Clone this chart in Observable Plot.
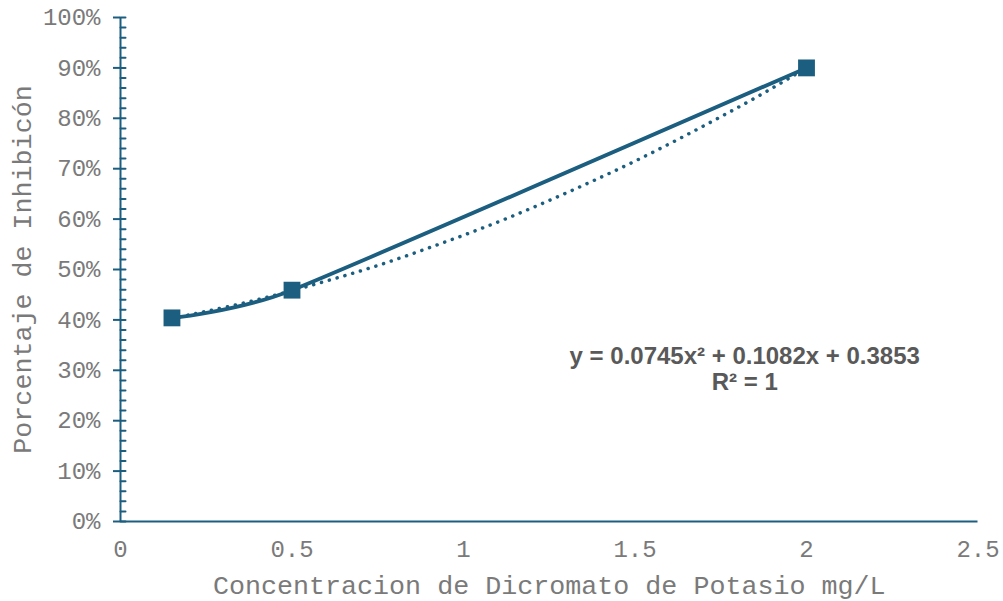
<!DOCTYPE html>
<html>
<head>
<meta charset="utf-8">
<script src="https://cdn.jsdelivr.net/npm/d3@7"></script>
<script src="https://cdn.jsdelivr.net/npm/@observablehq/plot@0.6"></script>
<style>
  html, body { margin: 0; padding: 0; background: #fff; }
  #chart svg { display: block; }
</style>
</head>
<body>
<div id="chart"></div>
<script>
// Measured data points (concentration mg/L, inhibition fraction)
const concentracion = [0.15, 0.5, 2];
const inhibicion = [0.404, 0.459, 0.90];

// Polynomial trendline
const trendX = [0.15, 0.25, 0.375, 0.5, 0.625, 0.75, 0.875, 1, 1.125, 1.25, 1.375, 1.5, 1.625, 1.75, 1.875, 2];
const trendY = [0.403, 0.417, 0.436, 0.458, 0.482, 0.508, 0.537, 0.568, 0.601, 0.637, 0.675, 0.715, 0.758, 0.803, 0.850, 0.900];

const xTicks = [0, 0.5, 1, 1.5, 2, 2.5];
const yMajor = [0, 0.1, 0.2, 0.3, 0.4, 0.5, 0.6, 0.7, 0.8, 0.9, 1.0];
const yMinor = d3.range(0, 51).map(i => i / 50);

const xTitle = "Concentracion de Dicromato de Potasio mg/L";
const yTitle = "Porcentaje de Inhibicón";
const equation = ["y = 0.0745x² + 0.1082x + 0.3853", "R² = 1"];

const points = concentracion.map((x, i) => ({x, y: inhibicion[i]}));
const trend = trendX.map((x, i) => ({x, y: trendY[i]}));

const C = "#1b5e80";
const TXT = "#7a7a7a";
const MONO = "'Courier New', 'Liberation Mono', monospace";

const tickShape = {draw(context, l) { context.moveTo(0, 0); context.lineTo(0, -l); }};

const chart = Plot.plot({
  width: 1003,
  height: 601,
  marginLeft: 120,
  marginRight: 25.5,
  marginTop: 17,
  marginBottom: 80,
  style: {fontFamily: MONO, background: "#fff"},
  x: {domain: [0, 2.5]},
  y: {domain: [0, 1]},
  marks: [
    // inward ticks (every 2%)
    Plot.vector(yMinor, {x: 0, y: d => d, length: 5, rotate: 90, anchor: "start", shape: tickShape, stroke: C, strokeWidth: 2}),
    // major outward ticks + labels
    Plot.axisY({ticks: yMajor, tickSize: 7, tickPadding: 13, stroke: C, strokeWidth: 2,
      tickFormat: d => Math.round(d * 100) + "%", fontSize: 24, fill: TXT, fontFamily: MONO, label: null}),
    Plot.axisX({ticks: xTicks, tickSize: 0, tickPadding: 18, tickFormat: d => String(d),
      fontSize: 24, fill: TXT, fontFamily: MONO, label: null}),
    Plot.ruleX([0], {stroke: C, strokeWidth: 2}),
    Plot.ruleY([0], {stroke: C, strokeWidth: 2}),
    Plot.text([xTitle], {frameAnchor: "bottom", dy: 64, lineAnchor: "middle", textAnchor: "middle", fontSize: 26.7, fill: TXT, fontFamily: MONO}),
    Plot.text([yTitle], {frameAnchor: "left", dx: -98, rotate: -90, lineAnchor: "middle", textAnchor: "middle", fontSize: 26.7, fill: TXT, fontFamily: MONO}),
    Plot.line(trend, {x: "x", y: "y", stroke: C, strokeWidth: 3.5, strokeDasharray: "0.1 8", strokeLinecap: "round", curve: "natural"}),
    Plot.line(points, {x: "x", y: "y", stroke: C, strokeWidth: 3.8, curve: d3.curveCardinal.tension(0.5)}),
    Plot.dot(points, {x: "x", y: "y", symbol: "square", r: 9.5, fill: C, stroke: "none"}),
    Plot.text([equation.join("\n")], {x: 1.82, y: 0.304, lineHeight: 1.08, fontSize: 24, fontWeight: "bold",
      fill: "#595959", fontFamily: "Arial, 'Liberation Sans', sans-serif", textAnchor: "middle"})
  ]
});
document.getElementById("chart").append(chart);
</script>
</body>
</html>
